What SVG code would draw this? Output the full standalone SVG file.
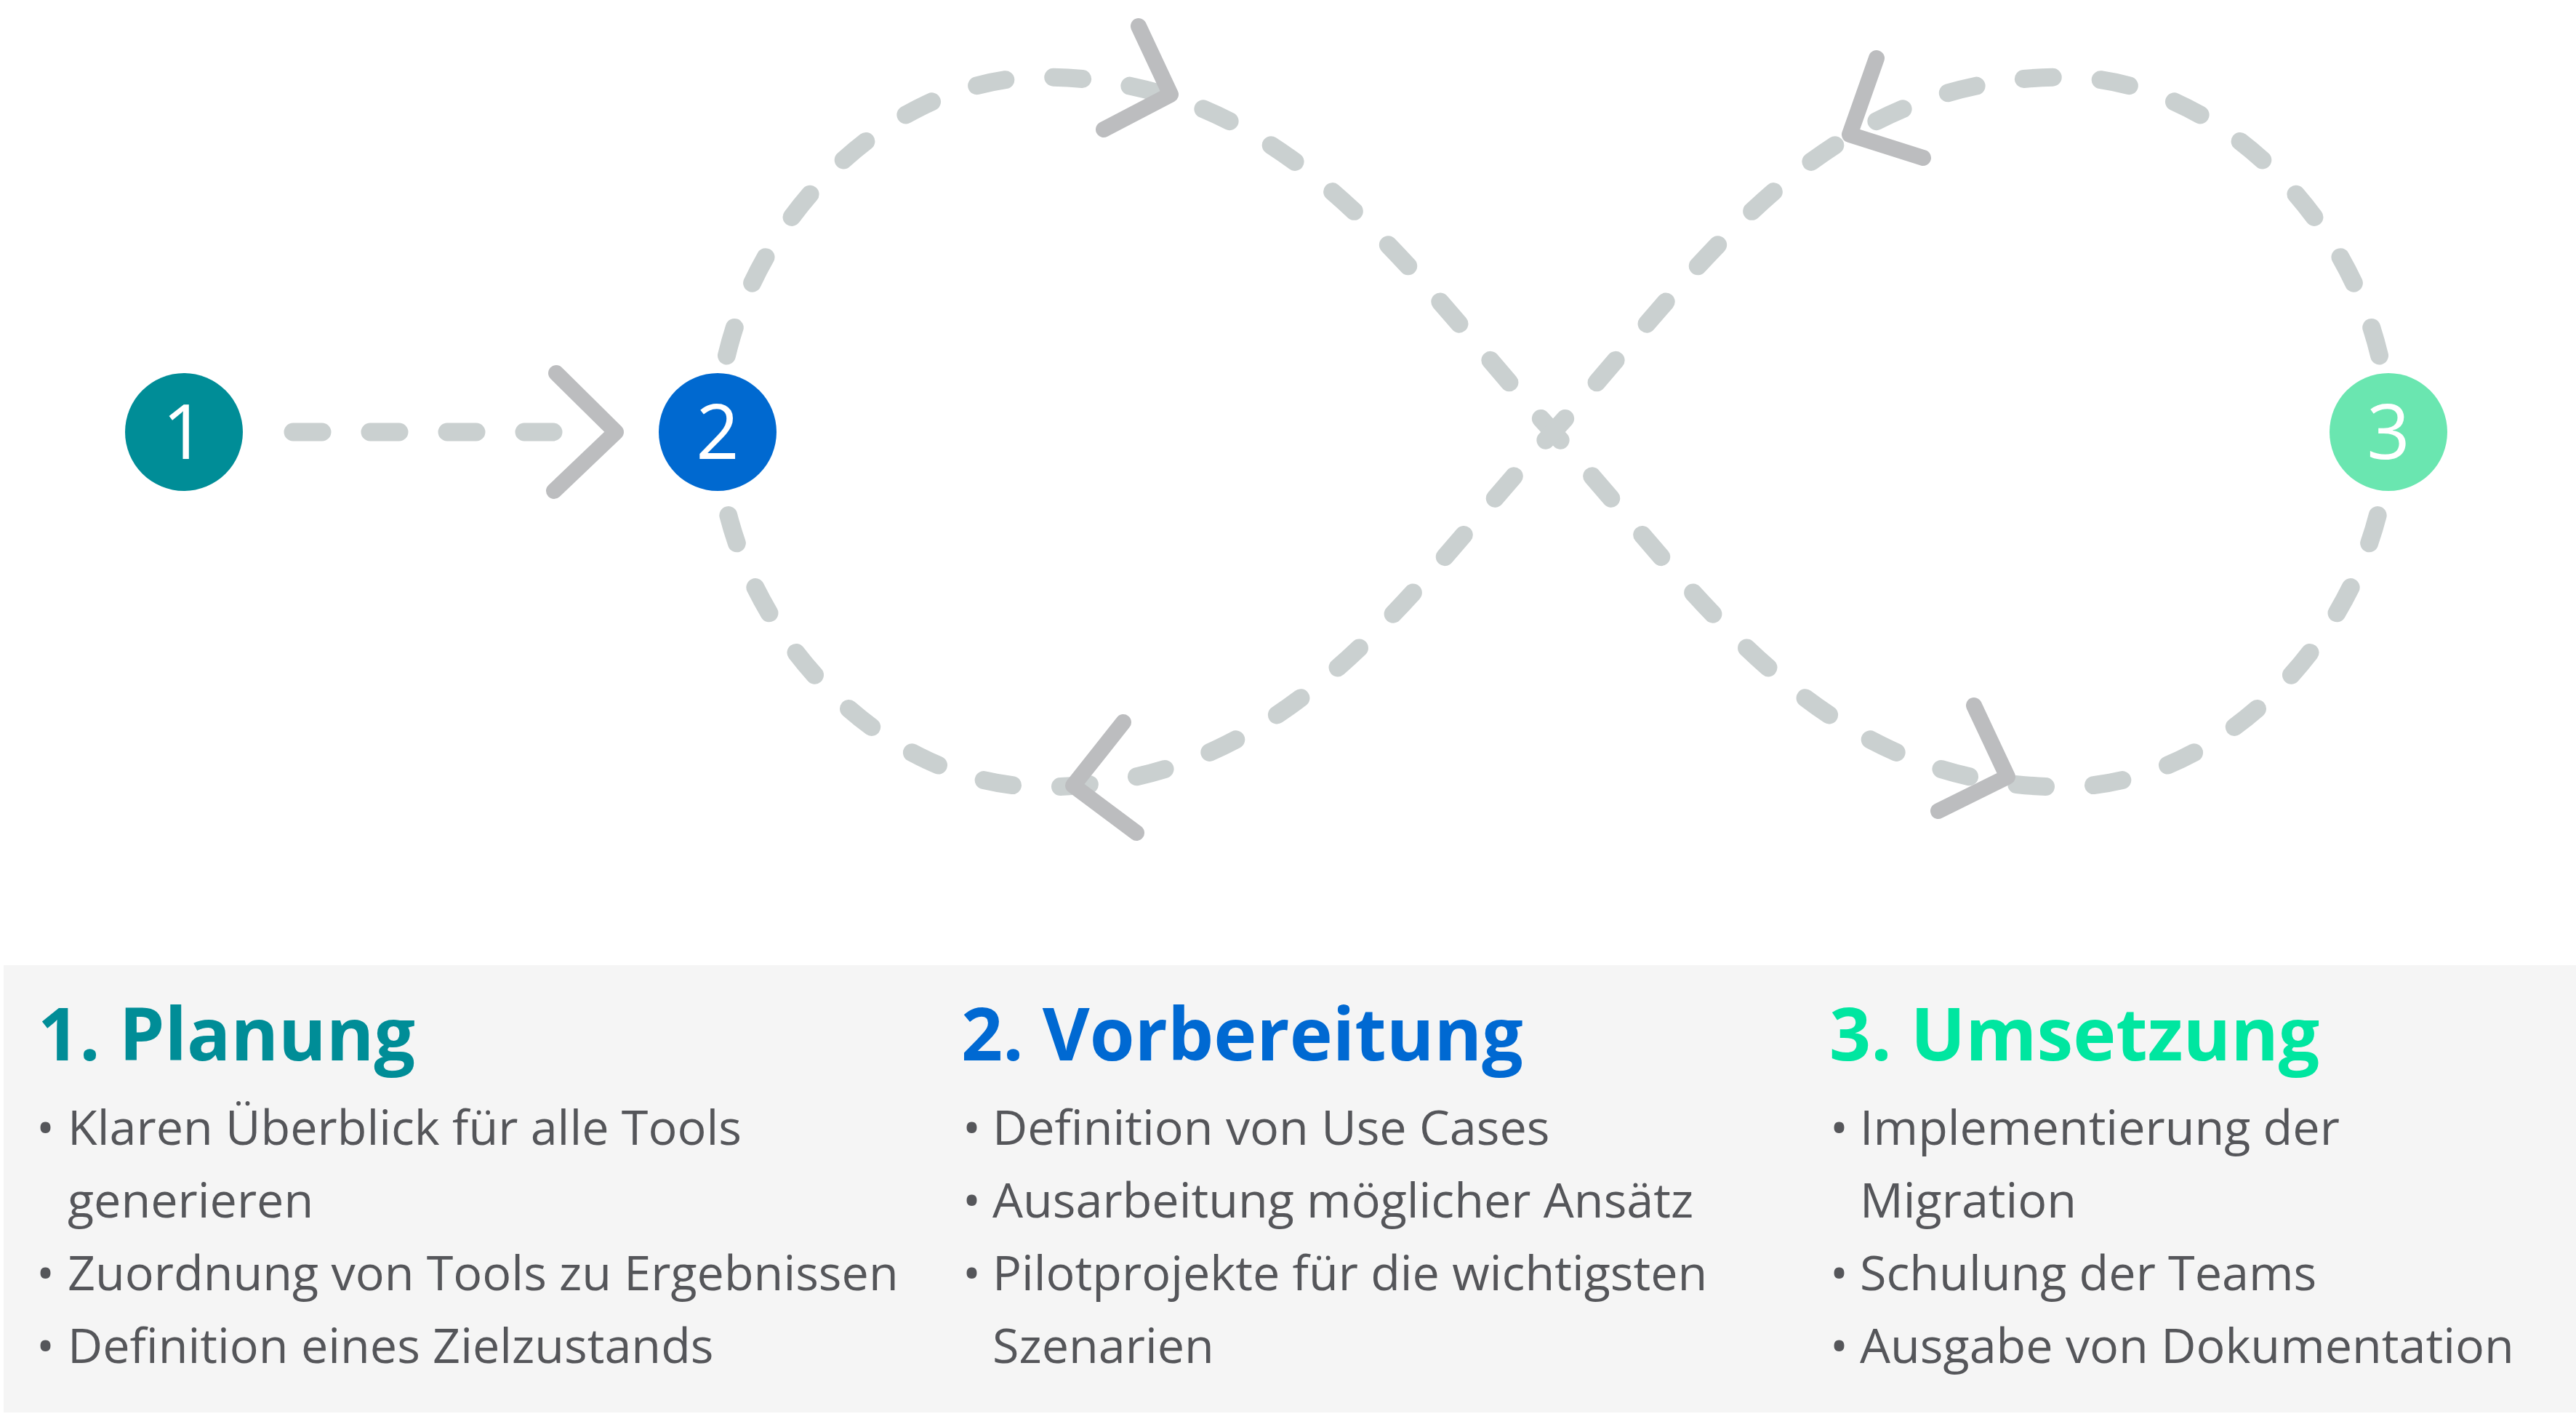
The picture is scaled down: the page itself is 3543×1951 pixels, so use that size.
<svg xmlns="http://www.w3.org/2000/svg" width="3543" height="1951" viewBox="0 0 3543 1951">
<style>
.dash{fill:none;stroke:#CAD0D0;stroke-width:25;stroke-linecap:round;stroke-dasharray:40 66}
.chev{fill:none;stroke:#BCBDBF;stroke-width:22;stroke-linecap:round;stroke-linejoin:round}
.num{font-family:"Open Sans","Noto Sans",sans-serif;font-size:104px;fill:#FFFFFF;text-anchor:middle}
.title{font-family:"Open Sans","Noto Sans",sans-serif;font-size:100px;font-weight:700}
.item{font-family:"Open Sans","Noto Sans",sans-serif;font-size:66.5px;fill:#55565A}
</style>
<rect x="0" y="0" width="3543" height="1951" fill="#FFFFFF"/>
<rect id="panel" x="5" y="1327" width="3538" height="615" fill="#F5F5F5"/>
<g id="connectors">
  <path class="dash" d="M403,594 H770"/>
  <path class="dash" d="M987,594 C987,344 1203,106 1433,106 C1773,106 1934,372 2136,594 C2338,816 2499,1082 2839,1082 C3069,1082 3285,844 3285,594"/>
  <path class="dash" d="M3285,594 C3285,344 3069,106 2839,106 C2499,106 2338,372 2136,594 C1934,816 1773,1082 1433,1082 C1203,1082 987,844 987,594"/>
  <path class="chev" d="M765,513 L847,594 L762,675"/>
  <path class="chev" d="M1566,36 L1610,130 L1518,178"/>
  <path class="chev" d="M1545,993 L1476,1080 L1563,1145"/>
  <path class="chev" d="M2581,80 L2544,185 L2645,217"/>
  <path class="chev" d="M2715,970 L2761,1068 L2666,1115"/>
</g>
<g id="node1">
  <circle cx="253" cy="594" r="81" fill="#008D97"/>
  <text class="num" x="253" y="631">1</text>
</g>
<g id="node2">
  <circle cx="987" cy="594" r="81" fill="#0069D0"/>
  <text class="num" x="987" y="631">2</text>
</g>
<g id="node3">
  <circle cx="3285" cy="594" r="81" fill="#6AE6B0"/>
  <text class="num" x="3285" y="631">3</text>
</g>
<g id="col1">
  <text class="title" x="52" y="1458" fill="#008D97">1. Planung</text>
  <text class="item" x="50" y="1574">•</text>
  <text class="item" x="93" y="1574">Klaren Überblick für alle Tools</text>
  <text class="item" x="93" y="1674">generieren</text>
  <text class="item" x="50" y="1774">•</text>
  <text class="item" x="93" y="1774">Zuordnung von Tools zu Ergebnissen</text>
  <text class="item" x="50" y="1874">•</text>
  <text class="item" x="93" y="1874">Definition eines Zielzustands</text>
</g>
<g id="col2">
  <text class="title" x="1322" y="1458" fill="#0069D2">2. Vorbereitung</text>
  <text class="item" x="1324" y="1574">•</text>
  <text class="item" x="1365" y="1574">Definition von Use Cases</text>
  <text class="item" x="1324" y="1674">•</text>
  <text class="item" x="1365" y="1674">Ausarbeitung möglicher Ansätz</text>
  <text class="item" x="1324" y="1774">•</text>
  <text class="item" x="1365" y="1774">Pilotprojekte für die wichtigsten</text>
  <text class="item" x="1365" y="1874">Szenarien</text>
</g>
<g id="col3">
  <text class="title" x="2516" y="1458" fill="#00E6A0">3. Umsetzung</text>
  <text class="item" x="2517" y="1574">•</text>
  <text class="item" x="2558" y="1574">Implementierung der</text>
  <text class="item" x="2558" y="1674">Migration</text>
  <text class="item" x="2517" y="1774">•</text>
  <text class="item" x="2558" y="1774">Schulung der Teams</text>
  <text class="item" x="2517" y="1874">•</text>
  <text class="item" x="2558" y="1874">Ausgabe von Dokumentation</text>
</g>
</svg>
